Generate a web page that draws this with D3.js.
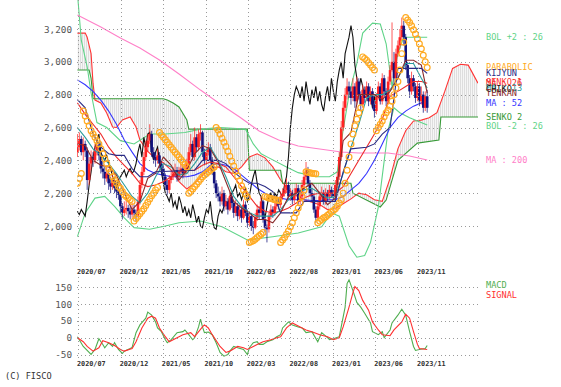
<!DOCTYPE html>
<html>
<head>
<meta charset="utf-8">
<script src="https://cdn.jsdelivr.net/npm/d3@7"></script>
<style>
  body { margin: 0; background: #fff; }
  text { font-family: "DejaVu Sans Mono", monospace; }
</style>
</head>
<body>
<div id="chart"></div>
<script>
// weekly candles, week 0 = 2020-06-29
const opens = [
  2450,2480,2530,2450,2500,2460,2280,2380,2420,2400, 2460,2490,2430,2350,2330,2290,2320,2260,2240,2280,
  2230,2210,2190,2120,2080,2100,2110,2090,2070,2100, 2080,2060,2150,2250,2330,2420,2480,2520,2560,2450,
  2420,2400,2430,2380,2350,2300,2250,2220,2280,2300, 2320,2340,2300,2330,2350,2320,2340,2380,2450,2500,
  2420,2540,2480,2560,2570,2450,2400,2450,2480,2400, 2330,2260,2200,2180,2150,2200,2120,2150,2100,2180,
  2140,2080,2120,2060,2100,2050,2130,2080,2020,2060, 2000,1990,2050,2100,2080,2150,2040,1990,1980,2060,
  2100,2080,2120,2150,2130,2180,2200,2220,2250,2180, 2200,2160,2200,2230,2150,2180,2250,2300,2340,2260,
  2200,2180,2100,2050,2120,2180,2200,2150,2200,2180, 2220,2200,2180,2250,2300,2420,2600,2720,2800,2850,
  2820,2780,2850,2760,2880,2800,2740,2830,2780,2850, 2760,2820,2740,2700,2790,2850,2760,2900,2820,2760,
  2880,2950,3000,2900,3050,3100,3150,3220,3150,2980, 2900,2820,2900,2850,2780,2850,2760,2800,2720,2790
];
const highs = [
  2560,2570,2550,2540,2520,2480,2420,2460,2450,2500, 2520,2500,2450,2400,2360,2370,2340,2300,2320,2300,
  2260,2240,2200,2140,2150,2160,2130,2120,2140,2130, 2100,2180,2280,2360,2450,2520,2560,2620,2580,2480,
  2450,2470,2450,2400,2370,2320,2280,2310,2340,2360, 2380,2360,2360,2380,2370,2370,2410,2480,2560,2520,
  2600,2560,2590,2620,2580,2470,2480,2510,2500,2420, 2350,2280,2240,2210,2240,2220,2190,2170,2210,2200,
  2160,2160,2140,2130,2120,2160,2150,2100,2090,2080, 2030,2080,2130,2120,2180,2160,2060,2010,2080,2130,
  2120,2150,2180,2170,2210,2230,2260,2290,2270,2230, 2220,2230,2260,2250,2210,2280,2330,2390,2360,2280,
  2230,2200,2120,2150,2210,2240,2220,2230,2220,2250, 2240,2220,2280,2330,2450,2640,2760,2840,2900,2880,
  2850,2900,2870,2910,2900,2820,2860,2850,2880,2870, 2850,2840,2760,2810,2880,2870,2930,2920,2840,2910,
  2980,3240,3060,3080,3130,3200,3270,3250,3170,3000, 2920,2940,2920,2870,2880,2870,2850,2820,2820,2830
];
const lows = [
  2420,2460,2430,2400,2420,2220,2250,2340,2360,2380, 2430,2400,2320,2290,2250,2270,2220,2200,2220,2200,
  2170,2160,2080,2040,2060,2070,2050,2040,2050,2050, 2030,2050,2130,2230,2310,2400,2450,2500,2420,2380,
  2360,2380,2350,2320,2270,2220,2190,2200,2260,2280, 2300,2270,2280,2310,2290,2300,2320,2360,2430,2400,
  2400,2450,2460,2520,2420,2370,2380,2430,2380,2310, 2230,2170,2150,2120,2130,2090,2100,2070,2090,2110,
  2050,2060,2030,2040,2020,2040,2060,1990,2000,1970, 1950,1980,2030,2040,2060,2020,1960,1900,1960,2040,
  2050,2060,2100,2100,2110,2160,2180,2200,2160,2160, 2130,2140,2180,2130,2130,2160,2230,2280,2240,2180,
  2150,2080,2020,2030,2100,2160,2130,2130,2150,2160, 2170,2150,2160,2230,2280,2400,2580,2700,2770,2780,
  2740,2760,2720,2740,2770,2700,2720,2750,2760,2730, 2740,2710,2660,2680,2770,2740,2740,2790,2730,2740,
  2860,2940,2850,2880,3030,3080,3130,3100,2950,2870, 2780,2800,2820,2750,2760,2730,2740,2690,2700,2690
];
const closes = [
  2480,2530,2450,2500,2460,2280,2380,2420,2400,2460, 2490,2430,2350,2330,2290,2320,2260,2240,2280,2230,
  2210,2190,2120,2080,2100,2110,2090,2070,2100,2080, 2060,2150,2250,2330,2420,2480,2520,2560,2450,2420,
  2400,2430,2380,2350,2300,2250,2220,2280,2300,2320, 2340,2300,2330,2350,2320,2340,2380,2450,2500,2420,
  2540,2480,2560,2570,2450,2400,2450,2480,2400,2330, 2260,2200,2180,2150,2200,2120,2150,2100,2180,2140,
  2080,2120,2060,2100,2050,2130,2080,2020,2060,2000, 1990,2050,2100,2080,2150,2040,1990,1980,2060,2100,
  2080,2120,2150,2130,2180,2200,2220,2250,2180,2200, 2160,2200,2230,2150,2180,2250,2300,2340,2260,2200,
  2180,2100,2050,2120,2180,2200,2150,2200,2180,2220, 2200,2180,2250,2300,2420,2600,2720,2800,2850,2820,
  2780,2850,2760,2880,2800,2740,2830,2780,2850,2760, 2820,2740,2700,2790,2850,2760,2900,2820,2760,2880,
  2950,3000,2900,3050,3100,3150,3220,3150,2980,2900, 2820,2900,2850,2780,2850,2760,2800,2720,2790,2720
];
const parabolic = [
  2260,2290,2320,2700,2670,2640,2610,2580,2560,2540, 2520,2500,2470,2440,2410,2380,2350,2330,2300,2280,
  2260,2240,2230,2210,2190,2180,2170,2160,2150,2030, 2045,2060,2075,2090,2105,2125,2145,2165,2185,2200,
  2220,2235,2570,2555,2540,2525,2510,2495,2480,2465, 2450,2435,2420,2405,2390,2375,2360,2200,2210,2225,
  2240,2255,2270,2285,2300,2310,2320,2330,2340,2350, 2360,2600,2585,2560,2535,2510,2485,2455,2425,2395,
  2365,2335,2305,2275,2245,2220,2195,2175,1900,1905, 1910,1920,1930,1940,1950,1960,2180,2175,2170,2168,
  2165,2160,2158,2155,1900,1915,1930,1950,1970,1995, 2020,2050,2080,2110,2140,2180,2220,2330,2328,2325,
  2322,2320,2318,2020,2030,2040,2050,2055,2065,2075, 2085,2095,2105,2120,2140,2160,2200,2260,2340,2420,
  2500,2560,2610,2650,2690,2720,3030,3020,3010,2995, 2980,2965,2950,2580,2600,2620,2640,2665,2690,2706,
  2730,2760,2800,2840,2880,2950,3050,3120,3270,3255, 3240,3220,3195,3170,3140,3110,3080,3040,3000,2965
];

// indicator lines: [week, value]
const bolUpper = [[0,3420],[2,3130],[5,2970],[7,2810],[10,2630],[15,2600],[22,2520],[29,2500],[37,2560],[45,2560],[55,2570],[63,2590],[73,2600],[86,2590],[90,2500],[94,2440],[98,2415],[107,2360],[113,2325],[122,2300],[129,2300],[133,2330],[136,2585],[139,2800],[143,2990],[146,3175],[151,3236],[155,3230],[158,3110],[161,2850],[164,3050],[167,3150],[179,3150]];
const bolLower = [[0,1935],[4,2080],[9,2170],[14,2180],[19,2120],[24,2050],[29,1990],[37,1980],[45,2000],[52,2020],[63,2030],[74,1995],[87,1915],[100,1935],[113,1957],[125,1995],[130,2080],[134,2060],[139,1880],[143,1810],[147,1820],[150,1900],[154,2115],[159,2585],[162,2720],[165,2690],[170,2660],[179,2615]];
const ma13 = [[0,2600],[4,2540],[8,2470],[12,2430],[16,2380],[20,2320],[24,2250],[28,2180],[32,2140],[36,2200],[40,2300],[44,2380],[48,2360],[52,2310],[56,2320],[60,2380],[64,2450],[68,2480],[72,2400],[76,2300],[80,2180],[84,2120],[88,2080],[92,2060],[96,2060],[100,2060],[104,2100],[108,2160],[112,2200],[116,2220],[120,2230],[124,2200],[128,2170],[132,2180],[136,2320],[140,2480],[144,2620],[148,2780],[152,2800],[156,2800],[160,2830],[164,2900],[168,2990],[172,2990],[176,2900],[179,2840]];
const ma26 = [[0,2750],[4,2680],[8,2620],[12,2560],[16,2480],[20,2420],[24,2370],[28,2320],[32,2260],[36,2240],[40,2250],[44,2270],[48,2300],[52,2330],[56,2340],[60,2340],[64,2370],[68,2390],[72,2380],[76,2360],[80,2300],[84,2240],[88,2180],[92,2120],[96,2090],[100,2080],[104,2090],[108,2110],[112,2140],[116,2170],[120,2190],[124,2200],[128,2200],[132,2200],[136,2240],[140,2320],[144,2400],[148,2480],[152,2560],[156,2650],[160,2790],[164,2820],[168,2850],[172,2880],[176,2880],[179,2870]];
const ma52 = [[0,2890],[4,2860],[8,2820],[12,2767],[16,2700],[20,2620],[24,2524],[28,2450],[32,2380],[36,2341],[40,2320],[44,2310],[48,2300],[52,2300],[56,2300],[60,2310],[64,2330],[68,2370],[72,2380],[76,2370],[80,2350],[84,2310],[88,2270],[92,2230],[96,2200],[100,2180],[104,2170],[108,2160],[112,2160],[116,2160],[120,2155],[124,2155],[128,2160],[132,2160],[136,2180],[140,2220],[144,2260],[148,2320],[152,2400],[156,2500],[160,2600],[164,2660],[168,2700],[172,2730],[176,2750],[179,2760]];
const ma200 = [[0,3285],[12,3212],[22,3145],[32,3084],[42,3011],[52,2926],[63,2828],[73,2743],[83,2664],[93,2579],[103,2524],[113,2487],[124,2469],[135,2451],[144,2445],[159,2445],[170,2426],[179,2402]];
const tenkan = [[0,2500],[4,2490],[8,2400],[12,2370],[16,2360],[20,2310],[24,2200],[28,2100],[32,2150],[36,2290],[40,2320],[44,2420],[48,2370],[52,2280],[56,2340],[60,2440],[64,2490],[68,2470],[72,2390],[76,2270],[80,2150],[84,2110],[88,2080],[92,2040],[96,2040],[100,2020],[104,2080],[108,2180],[112,2200],[116,2230],[120,2260],[124,2200],[128,2130],[132,2170],[136,2520],[140,2570],[144,2800],[148,2800],[152,2800],[156,2770],[160,2820],[164,2900],[168,3010],[172,3010],[176,2980],[179,2810]];
const kijun = [[0,2770],[4,2720],[8,2560],[12,2480],[16,2440],[20,2430],[24,2430],[28,2350],[32,2300],[36,2300],[40,2330],[60,2340],[64,2400],[72,2400],[76,2380],[80,2330],[84,2290],[88,2260],[92,2260],[96,2240],[100,2210],[104,2080],[112,2080],[116,2150],[132,2150],[136,2330],[140,2470],[148,2480],[152,2500],[156,2560],[160,2600],[164,2960],[176,2960],[179,2930]];
const senko1 = [[0,3175],[4,3175],[5,3150],[7,3050],[8,2870],[9,2767],[12,2749],[15,2688],[18,2603],[20,2600],[23,2646],[27,2664],[30,2603],[32,2524],[36,2455],[40,2410],[44,2385],[48,2340],[52,2270],[56,2225],[60,2260],[64,2310],[68,2350],[72,2360],[76,2330],[80,2320],[84,2360],[88,2420],[92,2440],[96,2415],[100,2360],[104,2280],[108,2220],[112,2185],[116,2160],[120,2145],[124,2130],[128,2100],[132,2105],[136,2135],[140,2165],[144,2200],[148,2190],[152,2160],[156,2150],[160,2290],[164,2470],[168,2580],[172,2640],[176,2645],[180,2660],[184,2690],[188,2820],[192,2960],[196,2985],[200,2980],[205,2870]];
const senko2 = [[0,2950],[6,2950],[7,2900],[8,2775],[44,2775],[46,2767],[49,2749],[52,2725],[56,2646],[57,2590],[87,2590],[88,2340],[104,2340],[105,2260],[140,2260],[141,2200],[155,2116],[158,2158],[164,2400],[174,2505],[185,2524],[186,2664],[205,2664]];

const macd = [[0,3],[3,-26],[7,-50],[9,-35],[11,-3],[13,-20],[14,-30],[16,-15],[18,-26],[19,-15],[21,-35],[23,-47],[24,-40],[27,-32],[28,-29],[30,15],[32,38],[35,58],[36,76],[38,67],[40,47],[41,29],[43,18],[45,-6],[46,-15],[48,-6],[51,15],[54,18],[55,23],[57,9],[59,-6],[60,0],[62,32],[63,55],[64,32],[65,15],[67,17],[69,9],[71,-15],[73,-44],[75,-55],[77,-50],[78,-40],[80,-26],[82,-30],[85,-35],[87,-50],[88,-30],[90,-15],[92,-12],[93,-20],[95,-20],[97,-12],[100,-6],[102,3],[104,9],[105,29],[108,47],[110,38],[113,32],[115,29],[117,15],[120,18],[123,-12],[125,15],[128,0],[129,-6],[131,-3],[134,3],[135,32],[137,91],[138,161],[139,172],[141,140],[143,105],[145,91],[147,73],[150,44],[151,18],[154,9],[156,18],[157,0],[160,23],[161,44],[164,67],[166,85],[168,67],[170,18],[172,-26],[173,-38],[175,-35],[178,-32],[179,-23]];
const signal = [[0,0],[3,-12],[5,-26],[8,-40],[11,-30],[13,-9],[16,-15],[19,-23],[22,-35],[24,-40],[28,-32],[30,-12],[33,29],[36,58],[38,64],[40,58],[42,29],[45,3],[47,-12],[51,0],[54,9],[58,15],[60,3],[64,32],[65,38],[67,29],[69,9],[73,-26],[76,-44],[78,-40],[82,-26],[85,-30],[87,-35],[90,-26],[92,-20],[95,-12],[99,-6],[102,0],[104,3],[107,29],[110,44],[114,32],[117,23],[120,18],[124,9],[128,3],[131,-6],[134,0],[136,32],[139,91],[141,134],[142,152],[144,140],[146,111],[149,82],[151,47],[154,23],[156,9],[160,6],[162,23],[166,47],[168,70],[170,58],[172,18],[174,-20],[175,-32],[179,-35]];

const priceTicks = [2000, 2200, 2400, 2600, 2800, 3000, 3200];
const macdTicks = [-50, 0, 50, 100, 150];
const dateTicks = ["2020-07-01","2020-12-01","2021-05-01","2021-10-01","2022-03-01","2022-08-01","2023-01-01","2023-06-01","2023-11-01"];

const legendNames  = ["BOL +2 : 26","PARABOLIC","KIJYUN","SENKO 1","MA : 26","MA : 13","CHIKO","TENKAN","MA : 52","SENKO 2","BOL -2 : 26","MA : 200"];
const legendValues = [3150, 2968, 2932, 2877, 2870, 2842, 2836, 2810, 2752, 2664, 2608, 2400];

const colors = {
  "BOL +2 : 26": "#5fd488", "BOL -2 : 26": "#5fd488", "PARABOLIC": "#ffaa22", "KIJYUN": "#2b2b85",
  "SENKO 1": "#ff3333", "MA : 26": "#ee2a2a", "MA : 13": "#2a9c9c", "CHIKO": "#111111",
  "TENKAN": "#8a2b2b", "MA : 52": "#3535ff", "SENKO 2": "#389a38", "MA : 200": "#ff80c8",
  up: "#ff2424", down: "#12127c", macd: "#4fae4f", signal: "#ff3030", grid: "#9a9a9a"
};

const svg = d3.select("#chart").append("svg").attr("width", 561).attr("height", 387);

const start = new Date(2020, 5, 29);
const wk = w => d3.timeDay.offset(start, 7 * w);
const x = d3.scaleTime().domain([wk(0), wk(205)]).range([77.4, 478]);
const y = d3.scaleLinear().domain([2000, 3200]).range([226, 29]);
const yM = d3.scaleLinear().domain([-50, 150]).range([354.5, 287.3]);
const parseDate = d3.timeParse("%Y-%m-%d");
const fmtDate = d3.timeFormat("%Y/%m");

const defs = svg.append("defs");
defs.append("clipPath").attr("id", "clipMain").append("rect").attr("x", 77).attr("y", 0).attr("width", 401).attr("height", 263);
defs.append("clipPath").attr("id", "clipMacd").append("rect").attr("x", 77).attr("y", 277).attr("width", 401).attr("height", 82);
const hatch = defs.append("pattern").attr("id", "hatch").attr("width", 2).attr("height", 2).attr("patternUnits", "userSpaceOnUse");
hatch.append("rect").attr("width", 2).attr("height", 2).attr("fill", "#f6f6f6");
hatch.append("rect").attr("width", 1).attr("height", 2).attr("fill", "#dedede");

const main = svg.append("g").attr("clip-path", "url(#clipMain)");
const lower = svg.append("g").attr("clip-path", "url(#clipMacd)");

// ichimoku cloud
const cloudPts = senko1.map(d => [x(wk(d[0])), y(d[1])])
  .concat(senko2.slice().reverse().map(d => [x(wk(d[0])), y(d[1])]));
main.append("path").attr("d", d3.line()(cloudPts) + "Z").attr("fill", "url(#hatch)");

// grid
const grid = svg.append("g").attr("stroke", colors.grid).attr("stroke-dasharray", "1,3");
priceTicks.forEach(v => grid.append("line").attr("x1", 77).attr("x2", 478)
  .attr("y1", Math.round(y(v)) + 0.5).attr("y2", Math.round(y(v)) + 0.5));
macdTicks.forEach(v => grid.append("line").attr("x1", 77).attr("x2", 478)
  .attr("y1", Math.round(yM(v)) + 0.5).attr("y2", Math.round(yM(v)) + 0.5));
dateTicks.forEach(s => {
  const xx = Math.round(x(parseDate(s))) + 0.5;
  grid.append("line").attr("x1", xx).attr("x2", xx).attr("y1", 0).attr("y2", 264);
  grid.append("line").attr("x1", xx).attr("x2", xx).attr("y1", 277).attr("y2", 359);
});

const line = d3.line().x(d => x(wk(d[0]))).y(d => y(d[1]));
function drawLine(g, data, color, gen) {
  g.append("path").attr("d", (gen || line)(data)).attr("fill", "none")
    .attr("stroke", color).attr("stroke-width", 1.1);
}

drawLine(main, senko1, colors["SENKO 1"]);
drawLine(main, senko2, colors["SENKO 2"]);
drawLine(main, bolUpper, colors["BOL +2 : 26"]);
drawLine(main, bolLower, colors["BOL -2 : 26"]);
drawLine(main, ma200, colors["MA : 200"]);
drawLine(main, ma52, colors["MA : 52"]);

// chiko span: closes shifted back 26 weeks
const chiko = closes.map((c, i) => [i - 26, c]).filter(d => d[0] >= 0);
drawLine(main, chiko, colors["CHIKO"]);

// candles
const candles = main.append("g");
closes.forEach((c, i) => {
  const cx = x(wk(i));
  const col = c >= opens[i] ? colors.up : colors.down;
  candles.append("line").attr("x1", cx).attr("x2", cx).attr("y1", y(highs[i])).attr("y2", y(lows[i]))
    .attr("stroke", col).attr("stroke-width", 1).attr("opacity", 0.75);
  const top = y(Math.max(c, opens[i])), bot = y(Math.min(c, opens[i]));
  candles.append("rect").attr("x", cx - 1.3).attr("width", 2.6)
    .attr("y", top).attr("height", Math.max(1, bot - top)).attr("fill", col);
});

drawLine(main, ma26, colors["MA : 26"]);
drawLine(main, ma13, colors["MA : 13"]);
drawLine(main, tenkan, colors["TENKAN"]);
drawLine(main, kijun, colors["KIJYUN"]);

// parabolic SAR
main.append("g").selectAll("circle").data(parabolic).join("circle")
  .attr("cx", (d, i) => x(wk(i))).attr("cy", d => y(d)).attr("r", 2.9)
  .attr("fill", "none").attr("stroke", colors["PARABOLIC"]).attr("stroke-width", 1.2);

// MACD panel
const lineM = d3.line().x(d => x(wk(d[0]))).y(d => yM(d[1]));
drawLine(lower, macd, colors.macd, lineM);
drawLine(lower, signal, colors.signal, lineM);

// axis labels
const labels = svg.append("g");
priceTicks.forEach(v => labels.append("text").attr("x", 72).attr("y", y(v) + 3.5)
  .attr("text-anchor", "end").attr("font-size", 9.3).attr("fill", "#555").text(d3.format(",")(v)));
macdTicks.forEach(v => labels.append("text").attr("x", 72).attr("y", yM(v) + 3.5)
  .attr("text-anchor", "end").attr("font-size", 9.3).attr("fill", "#555").text(String(v)));
dateTicks.forEach(s => {
  const xx = x(parseDate(s));
  [273.5, 366].forEach(yy => labels.append("text").attr("x", xx - 1).attr("y", yy)
    .attr("font-size", 6.8).attr("font-weight", "bold").attr("fill", "#333").text(fmtDate(parseDate(s))));
});

// series labels at their last values (they overlap in the source chart too)
legendNames.forEach((n, i) => labels.append("text").attr("x", 486).attr("y", y(legendValues[i]) + 3)
  .attr("font-size", 8.6).attr("fill", colors[n]).text(n));
labels.append("text").attr("x", 486).attr("y", 287.5).attr("font-size", 8.6).attr("fill", colors.macd).text("MACD");
labels.append("text").attr("x", 486).attr("y", 297.5).attr("font-size", 8.6).attr("fill", colors.signal).text("SIGNAL");
labels.append("text").attr("x", 5).attr("y", 379).attr("font-size", 8.6).attr("fill", "#333").text("(C) FISCO");
</script>
</body>
</html>
